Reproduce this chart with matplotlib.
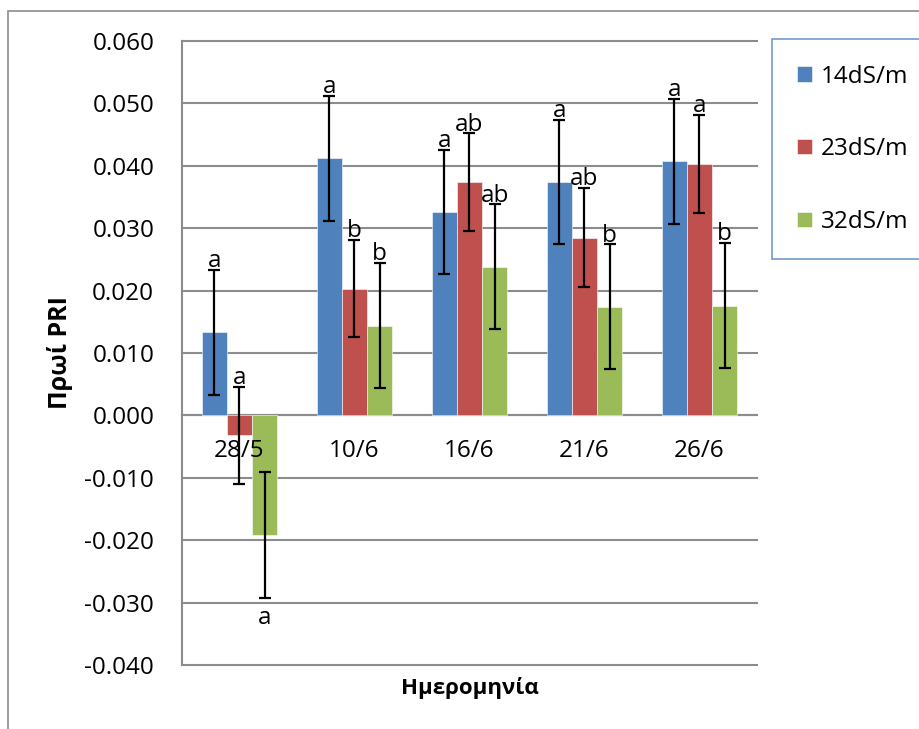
import matplotlib.pyplot as plt
from matplotlib.patches import Rectangle
import numpy as np

# ------------- data
dates = ["28/5", "10/6", "16/6", "21/6", "26/6"]
series_names = ["14dS/m", "23dS/m", "32dS/m"]

pri_14 = [0.0133, 0.0412, 0.0326, 0.0374, 0.0407]
pri_23 = [-0.0032, 0.0203, 0.0374, 0.0285, 0.0403]
pri_32 = [-0.0191, 0.0144, 0.0238, 0.0174, 0.0176]

err_14 = [0.0100, 0.0100, 0.0100, 0.0100, 0.0100]
err_23 = [0.0078, 0.0078, 0.0078, 0.0079, 0.0078]
err_32 = [0.0101, 0.0100, 0.0100, 0.0100, 0.0100]

letters_14 = ["a", "a", "a", "a", "a"]
letters_23 = ["a", "b", "ab", "ab", "a"]
letters_32 = ["a", "b", "ab", "b", "b"]

colors = ["#4F81BD", "#C0504D", "#9BBB59"]
grid_color = "#8C8C8C"
fs = 17.5

plt.rcParams['font.family'] = ['Open Sans', 'DejaVu Sans']

fig = plt.figure(figsize=(9.2, 7.29), dpi=100)
ax = fig.add_axes([182 / 920, 1 - 665 / 729, 575 / 920, 624 / 729])

x = np.arange(len(dates))
width = 0.22
all_vals = [pri_14, pri_23, pri_32]
all_errs = [err_14, err_23, err_32]
all_letters = [letters_14, letters_23, letters_32]

for i, (vals, errs, lets) in enumerate(zip(all_vals, all_errs, all_letters)):
    pos = x + (i - 1) * width
    ax.bar(pos, vals, width, color=colors[i], label=series_names[i], zorder=2,
           edgecolor="white", linewidth=0.4)
    ax.errorbar(pos, vals, yerr=errs, fmt="none", ecolor="black", elinewidth=1.6,
                capsize=4.3, capthick=1.6, zorder=3)
    for p, v, e, t in zip(pos, vals, errs, lets):
        if v + e < 0:
            ax.annotate(t, (p, v - e), xytext=(0, -6), textcoords="offset points",
                        ha="center", va="top", fontsize=fs, zorder=4)
        else:
            ax.annotate(t, (p, v + e), xytext=(0, 2), textcoords="offset points",
                        ha="center", va="baseline", fontsize=fs, zorder=4)

ax.set_xlim(-0.5, len(dates) - 0.5)
ax.set_ylim(-0.04, 0.06)
ax.set_yticks(np.arange(-0.04, 0.0601, 0.01))
ax.set_yticklabels([f"{v:.3f}" for v in np.arange(-0.04, 0.0601, 0.01)])
ax.yaxis.grid(True, color=grid_color, linewidth=1.5, zorder=0)
ax.set_axisbelow(True)
for gl in ax.yaxis.get_gridlines():
    gl.set_clip_on(False)

# category labels sit just under the zero line, drawn over the bars
ax.set_xticks(x)
ax.set_xticklabels([])
for xi, d in zip(x, dates):
    ax.annotate(d, (xi, 0), xytext=(0, -17), textcoords="offset points",
                ha="center", va="top", fontsize=fs, zorder=5)

ax.spines['bottom'].set_position(('data', 0))
ax.spines['bottom'].set_color(grid_color)
ax.spines['bottom'].set_linewidth(1.5)
ax.spines['bottom'].set_zorder(1)
ax.spines['left'].set_color(grid_color)
ax.spines['left'].set_linewidth(1.5)
ax.spines['top'].set_visible(False)
ax.spines['right'].set_visible(False)
ax.tick_params(axis='x', length=0)
ax.tick_params(axis='y', length=0, pad=20, labelsize=fs)

ax.set_ylabel("Πρωί PRI", fontsize=18, fontweight="bold", labelpad=8)
ax.set_xlabel("Ημερομηνία", fontsize=16, fontweight="bold")
ax.xaxis.set_label_coords(0.5, -0.02)

leg = ax.legend(loc="upper left", bbox_to_anchor=(1.026, 1.003), borderaxespad=0,
                fontsize=fs, fancybox=False, handlelength=0.6, handleheight=0.6,
                handletextpad=0.35, labelspacing=2.0, borderpad=1.05)
leg.get_frame().set_edgecolor("#4F81BD")
leg.get_frame().set_linewidth(1.2)

# chart area border
fig.patches.append(Rectangle((8 / 920, -0.1), 1.2, 1.1 - 11 / 729, transform=fig.transFigure,
                             fill=False, edgecolor="#8C8C8C", linewidth=1.2))

fig.savefig("out.png", dpi=100)
